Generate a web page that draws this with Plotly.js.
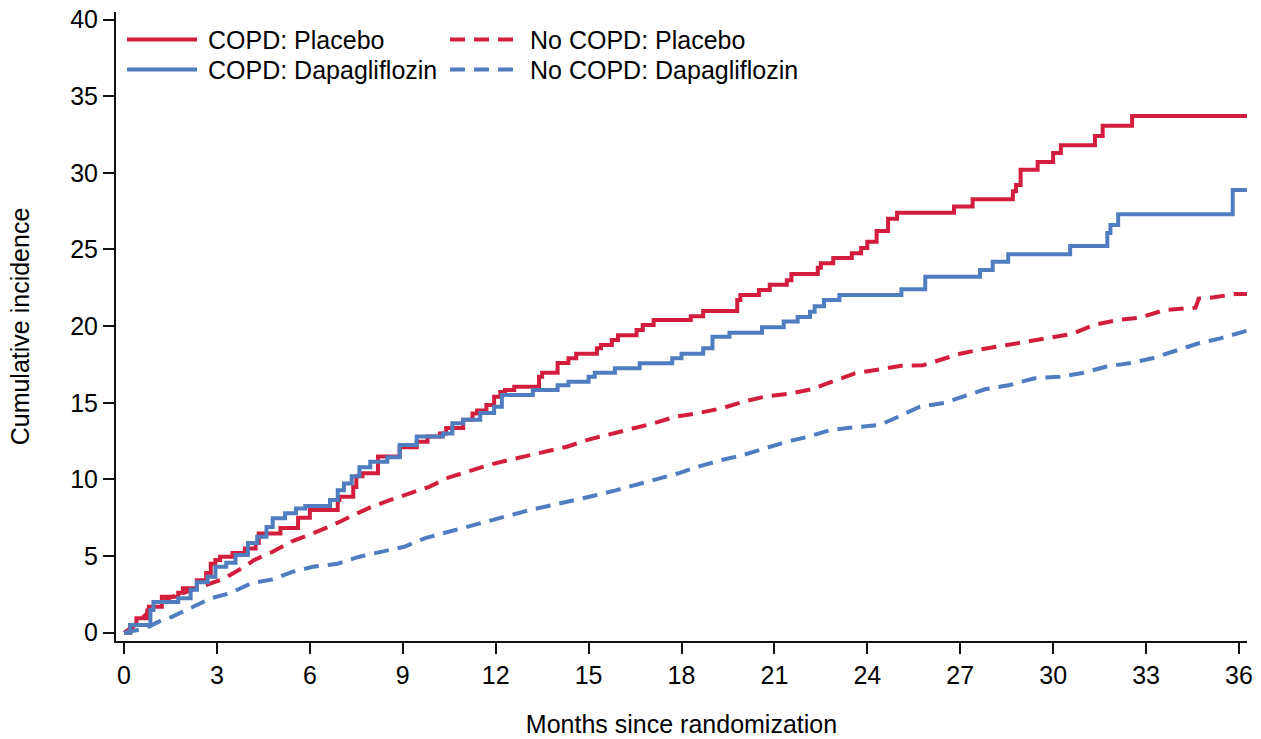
<!DOCTYPE html>
<html>
<head>
<meta charset="utf-8">
<script src="https://cdn.plot.ly/plotly-3.0.1.min.js"></script>
<style>
html,body{margin:0;padding:0;background:#fff;}
#chart{width:1261px;height:739px;}
</style>
</head>
<body>
<div id="chart"></div>
<script>
// ---- Data ----
const seriesNames = ["COPD: Placebo", "COPD: Dapagliflozin", "No COPD: Placebo", "No COPD: Dapagliflozin"];

const copdPlaceboX = [0,0.2,0.4,0.75,0.8,1.22,1.75,1.9,2.35,2.65,2.8,2.95,3.1,3.5,3.9,4.25,4.35,5.05,5.62,6.0,6.9,6.95,7.4,7.5,7.7,8.2,8.9,9.45,9.8,10.2,10.4,10.95,11.25,11.4,11.7,11.95,12.15,12.3,12.6,13.4,13.5,14.0,14.35,14.6,15.27,15.4,15.75,15.95,16.55,16.75,17.1,18.3,18.7,19.8,19.9,20.5,20.85,21.4,21.55,22.4,22.5,22.9,23.5,23.8,24.0,24.3,24.67,24.96,26.8,27.4,28.7,28.8,28.95,29.5,30.0,30.25,31.35,31.6,32.55,36.26];
const copdPlaceboY = [0,0.5,0.95,1.45,1.7,2.35,2.6,2.9,3.43,3.9,4.5,4.75,4.96,5.2,5.5,5.85,6.48,6.83,7.5,8.0,8.65,8.87,9.5,10.2,10.4,11.5,12.1,12.45,12.8,13.0,13.35,13.9,14.3,14.5,14.85,15.4,15.7,15.83,16.05,16.7,16.96,17.6,17.9,18.2,18.55,18.77,19.1,19.4,19.75,20.07,20.4,20.65,20.98,21.7,22.03,22.35,22.7,23.0,23.4,23.8,24.1,24.45,24.75,25.1,25.5,26.2,27.0,27.4,27.8,28.27,28.8,29.2,30.2,30.7,31.3,31.8,32.4,33.07,33.7,33.7];

const copdDapaX = [0,0.2,0.85,0.95,1.75,2.15,2.35,2.7,2.95,3.3,3.6,4.0,4.3,4.6,4.8,5.2,5.55,5.85,6.65,6.9,7.1,7.35,7.6,7.95,8.5,8.9,9.45,10.3,10.6,10.95,11.5,11.95,12.2,13.2,14.0,14.35,15.0,15.2,15.85,16.65,17.7,18.0,18.7,19.0,19.55,20.6,21.3,21.75,22.15,22.3,22.6,23.1,25.1,25.87,27.64,28.05,28.55,30.55,31.75,31.85,32.1,35.8,36.26];
const copdDapaY = [0,0.5,1.48,2.0,2.25,2.8,3.3,3.65,4.3,4.57,5.07,5.85,6.26,6.9,7.46,7.8,8.1,8.26,8.66,9.3,9.74,10.2,10.8,11.15,11.44,12.24,12.8,13.0,13.66,13.9,14.33,14.74,15.5,15.83,16.15,16.37,16.7,16.96,17.25,17.57,17.9,18.2,18.55,19.3,19.57,19.92,20.3,20.6,20.94,21.3,21.7,22.03,22.4,23.22,23.66,24.2,24.68,25.22,26.07,26.6,27.3,28.88,28.88];

const noCopdPlaceboX = [0,0.3,0.6,1.0,1.5,2.2,2.8,3.2,3.8,4.2,4.8,5.4,6.1,6.7,7.3,7.95,8.6,9.25,9.85,10.5,11.2,11.8,12.5,12.9,13.6,14.3,15.0,15.7,16.4,17.1,17.8,18.5,19.3,20.0,20.7,21.5,22.2,22.9,23.6,24.4,25.1,25.8,26.4,27.0,27.7,28.4,29.1,29.9,30.6,31.3,32.1,32.8,33.6,34.6,34.7,35.2,35.9,36.26];
const noCopdPlaceboY = [0,0.4,1.0,1.7,2.3,2.8,3.2,3.5,4.2,4.74,5.28,5.94,6.48,6.98,7.57,8.18,8.66,9.09,9.52,10.14,10.57,10.95,11.3,11.48,11.8,12.13,12.6,12.96,13.27,13.66,14.09,14.31,14.64,15.07,15.4,15.6,15.88,16.37,16.92,17.18,17.42,17.45,17.83,18.2,18.49,18.72,18.98,19.24,19.48,20.07,20.4,20.55,21.05,21.2,21.8,21.88,22.1,22.1];

const noCopdDapaX = [0,0.5,0.8,1.2,1.55,2.2,2.8,3.45,4.1,4.8,5.45,6.1,6.9,7.6,8.3,9.05,9.7,10.4,11.1,11.8,12.5,13.1,13.8,14.5,15.2,15.9,16.6,17.3,17.9,18.6,19.3,20.0,20.7,21.4,22.1,22.8,23.6,24.4,25.0,25.7,26.5,27.1,27.8,28.6,29.4,30.2,30.9,31.7,32.5,33.2,33.9,34.7,35.4,36.26];
const noCopdDapaY = [0,0.2,0.4,0.8,1.04,1.7,2.24,2.6,3.22,3.48,3.98,4.3,4.5,4.96,5.28,5.61,6.16,6.55,6.91,7.35,7.68,8.0,8.3,8.65,8.95,9.3,9.7,10.1,10.4,10.87,11.27,11.6,12.03,12.46,12.79,13.22,13.4,13.55,14.09,14.74,15.0,15.4,15.88,16.16,16.6,16.7,16.92,17.35,17.6,17.9,18.33,18.88,19.2,19.7];

const xTickVals = [0,3,6,9,12,15,18,21,24,27,30,33,36];
const yTickVals = [0,5,10,15,20,25,30,35,40];

// ---- Styling ----
const RED = "#D21E3C";
const BLUE = "#4F7DC0";
const FONT = "Liberation Sans, Arial, Helvetica, sans-serif";
const DASH = "15px,9px";
const LW = 4;

const traces = [
  {x: noCopdPlaceboX, y: noCopdPlaceboY, mode: "lines", name: seriesNames[2],
   line: {color: RED, width: LW, dash: DASH, shape: "linear"}, showlegend: false, hoverinfo: "x+y"},
  {x: noCopdDapaX, y: noCopdDapaY, mode: "lines", name: seriesNames[3],
   line: {color: BLUE, width: LW, dash: DASH, shape: "linear"}, showlegend: false, hoverinfo: "x+y"},
  {x: copdPlaceboX, y: copdPlaceboY, mode: "lines", name: seriesNames[0],
   line: {color: RED, width: LW, shape: "hv"}, showlegend: false, hoverinfo: "x+y"},
  {x: copdDapaX, y: copdDapaY, mode: "lines", name: seriesNames[1],
   line: {color: BLUE, width: LW, shape: "hv"}, showlegend: false, hoverinfo: "x+y"}
];

// Manual legend (two columns, long line samples) in paper coordinates
const M = {l: 116, r: 14, t: 12, b: 98};
const W = 1261, H = 739;
const pw = W - M.l - M.r, ph = H - M.t - M.b;
const px2x = p => (p - M.l) / pw;
const py2y = p => (H - M.b - p) / ph;

const legendItems = [
  {name: seriesNames[0], color: RED, dash: "solid", col: 0, row: 0},
  {name: seriesNames[1], color: BLUE, dash: "solid", col: 0, row: 1},
  {name: seriesNames[2], color: RED, dash: DASH, col: 1, row: 0},
  {name: seriesNames[3], color: BLUE, dash: DASH, col: 1, row: 1}
];
const colLine = [[127, 197], [450, 517]];
const colText = [206, 528];
const rowY = [39.5, 69.5];

const shapes = [];
const annotations = [];
legendItems.forEach(it => {
  shapes.push({type: "line", xref: "paper", yref: "paper",
    x0: px2x(colLine[it.col][0]), x1: px2x(colLine[it.col][1]),
    y0: py2y(rowY[it.row]), y1: py2y(rowY[it.row]),
    line: {color: it.color, width: LW, dash: it.dash}});
  annotations.push({xref: "paper", yref: "paper", x: px2x(colText[it.col]), y: py2y(rowY[it.row]),
    xanchor: "left", yanchor: "middle", showarrow: false, text: it.name,
    font: {family: FONT, size: 25, color: "#000"}});
});

const layout = {
  width: W, height: H,
  margin: M,
  paper_bgcolor: "#fff", plot_bgcolor: "#fff",
  font: {family: FONT, size: 25, color: "#000"},
  showlegend: false,
  xaxis: {
    range: [-0.26, 36.26], tickvals: xTickVals, ticktext: xTickVals.map(String),
    ticks: "outside", ticklen: 11, tickwidth: 2, tickcolor: "#111",
    showline: true, linewidth: 2, linecolor: "#111", mirror: false,
    showgrid: false, zeroline: false, fixedrange: true,
    tickfont: {family: FONT, size: 25, color: "#000"},
    title: {text: "Months since randomization", font: {family: FONT, size: 25, color: "#000"}, standoff: 27}
  },
  yaxis: {
    range: [-0.54, 40.49], tickvals: yTickVals, ticktext: yTickVals.map(String),
    ticks: "outside", ticklen: 11, tickwidth: 2, tickcolor: "#111",
    showline: true, linewidth: 2, linecolor: "#111", mirror: false,
    showgrid: false, zeroline: false, fixedrange: true,
    tickfont: {family: FONT, size: 25, color: "#000"},
    title: {text: "Cumulative incidence", font: {family: FONT, size: 25, color: "#000"}, standoff: 33}
  },
  shapes: shapes,
  annotations: annotations
};

Plotly.newPlot("chart", traces, layout, {staticPlot: true, displayModeBar: false});
</script>
</body>
</html>
